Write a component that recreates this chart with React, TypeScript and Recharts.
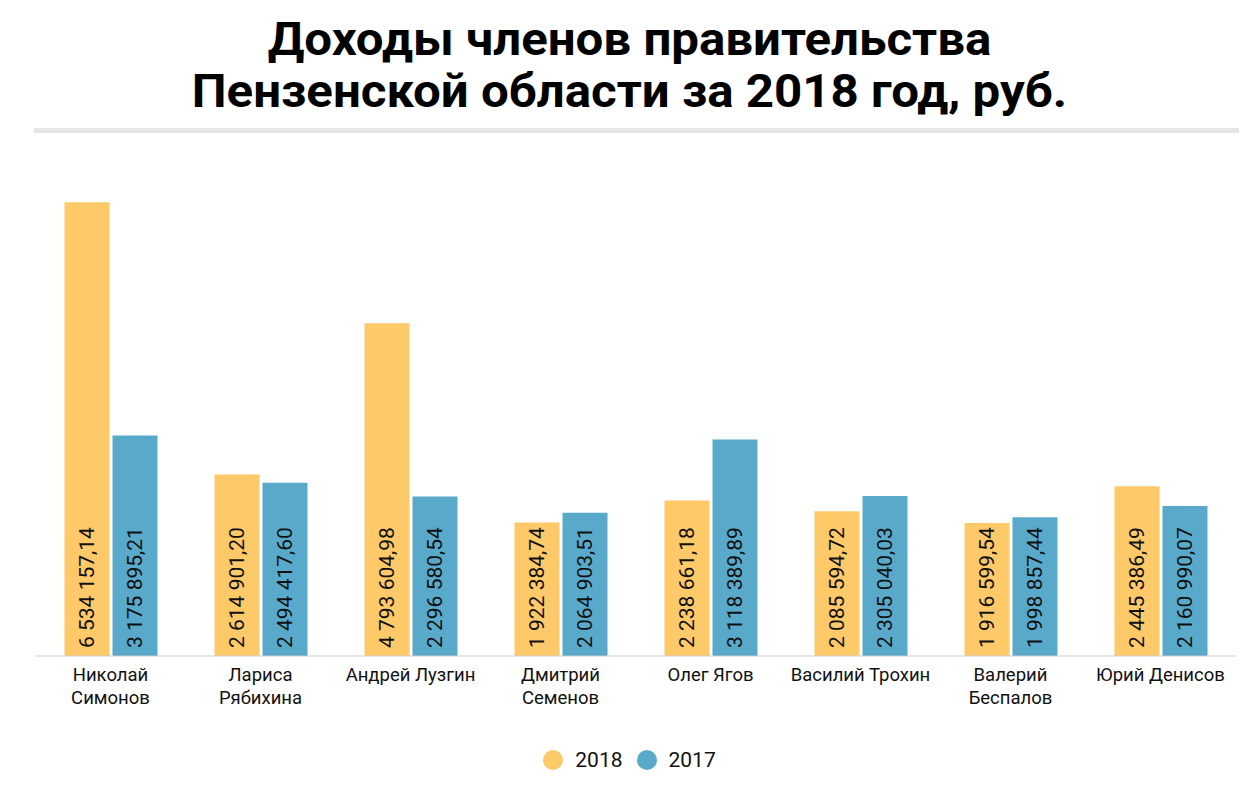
import { BarChart, Bar, XAxis, YAxis, Legend, LabelList } from 'recharts';

const names = [
  ['Николай', 'Симонов'],
  ['Лариса', 'Рябихина'],
  ['Андрей Лузгин'],
  ['Дмитрий', 'Семенов'],
  ['Олег Ягов'],
  ['Василий Трохин'],
  ['Валерий', 'Беспалов'],
  ['Юрий Денисов'],
];

const income2018 = [6534157.14, 2614901.2, 4793604.98, 1922384.74, 2238661.18, 2085594.72, 1916599.54, 2445386.49];
const income2017 = [3175895.21, 2494417.6, 2296580.54, 2064903.51, 3118389.89, 2305040.03, 1998857.44, 2160990.07];

const seriesNames = ['2018', '2017'];
const colors = ['#FEC968', '#59AACA'];

const data = names.map((n, i) => ({
  name: n.join(' '),
  y2018: income2018[i],
  y2017: income2017[i],
}));

const fmt = (v: number) => {
  const [int, dec] = v.toFixed(2).split('.');
  return int.replace(/\B(?=(\d{3})+(?!\d))/g, ' ') + ',' + dec;
};

const FONT = 'Roboto, sans-serif';

const renderValue = (props: any) => {
  const { x, y, width, height, value } = props;
  const cx = x + width / 2;
  const by = y + height - 8;
  return (
    <text
      x={cx}
      y={by}
      transform={`rotate(-90, ${cx}, ${by})`}
      textAnchor="start"
      dominantBaseline="central"
      fontSize={21}
      fontFamily={FONT}
      fill="#111"
    >
      {fmt(value)}
    </text>
  );
};

const renderTick = (props: any) => {
  const { x, y, index } = props;
  const lines = names[index] || [];
  return (
    <g>
      {lines.map((l, k) => (
        <text
          key={k}
          x={x}
          y={y + 11 + k * 23}
          textAnchor="middle"
          dominantBaseline="central"
          fontSize={18.5}
          fontFamily={FONT}
          fill="#111"
        >
          {l}
        </text>
      ))}
    </g>
  );
};

const renderLegend = () => (
  <div style={{ display: 'flex', justifyContent: 'center', alignItems: 'center', height: 30, fontFamily: FONT }}>
    {seriesNames.map((s, i) => (
      <div key={s} style={{ display: 'flex', alignItems: 'center', marginRight: i === 0 ? 14 : 0 }}>
        <span style={{ width: 20, height: 20, borderRadius: 10, background: colors[i], display: 'inline-block' }} />
        <span style={{ fontSize: 21, color: '#111', marginLeft: 12 }}>{s}</span>
      </div>
    ))}
  </div>
);

export default function App() {
  return (
    <div style={{ position: 'relative', width: 1243, height: 780 }}>
      <div
        style={{
          position: 'absolute',
          top: 5,
          left: 0,
          width: 1243,
          textAlign: 'center',
          fontFamily: FONT,
          fontWeight: 700,
          fontSize: 46,
          lineHeight: '52px',
          color: '#000',
          transform: 'scaleX(1.07)',
        }}
      >
        Доходы членов правительства
        <br />
        Пензенской области за 2018 год, руб.
      </div>
      <div style={{ position: 'absolute', top: 120, left: 26, width: 1205, height: 5, background: '#e6e6e6' }} />
      <BarChart
        width={1243}
        height={777}
        data={data}
        margin={{ top: 162, right: 15.5, left: 27.5, bottom: 10 }}
        barSize={45}
        barGap={3}
      >
        <XAxis
          dataKey="name"
          interval={0}
          height={89}
          stroke="#cccccc"
          tickLine={false}
          tick={renderTick}
        />
        <YAxis hide domain={[0, 7000000]} width={0} />
        <Legend
          verticalAlign="bottom"
          content={renderLegend}
          wrapperStyle={{ height: 30, left: 0, width: 1243 }}
        />
        <Bar dataKey="y2018" name={seriesNames[0]} fill={colors[0]} isAnimationActive={false}>
          <LabelList dataKey="y2018" content={renderValue} />
        </Bar>
        <Bar dataKey="y2017" name={seriesNames[1]} fill={colors[1]} isAnimationActive={false}>
          <LabelList dataKey="y2017" content={renderValue} />
        </Bar>
      </BarChart>
    </div>
  );
}
